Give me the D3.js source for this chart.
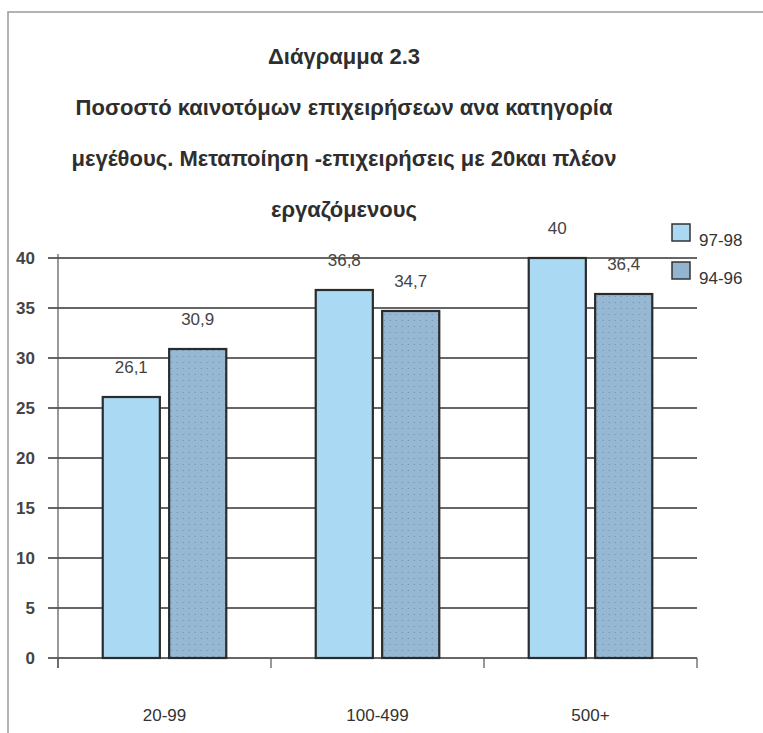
<!DOCTYPE html>
<html>
<head>
<meta charset="utf-8">
<script src="https://cdn.jsdelivr.net/npm/d3@7"></script>
<style>
  body { margin: 0; background: #fff; }
  svg { display: block; font-family: "Liberation Sans", Arial, sans-serif; }
</style>
</head>
<body>
<div id="chart"></div>
<script>
// data
const categories = ["20-99", "100-499", "500+"];
const seriesNames = ["97-98", "94-96"];
const values9798 = [26.1, 36.8, 40];
const values9496 = [30.9, 34.7, 36.4];
const yTicks = [0, 5, 10, 15, 20, 25, 30, 35, 40];
const titleLines = [
  "Διάγραμμα 2.3",
  "Ποσοστό καινοτόμων επιχειρήσεων ανα κατηγορία",
  "μεγέθους. Μεταποίηση -επιχειρήσεις με 20και πλέον",
  "εργαζόμενους"
];

const W = 763, H = 733;
const svg = d3.select("#chart").append("svg")
  .attr("width", W)
  .attr("height", H);

// fills
const defs = svg.append("defs");
const pat = defs.append("pattern")
  .attr("id", "dots")
  .attr("width", 6)
  .attr("height", 6)
  .attr("patternUnits", "userSpaceOnUse");
pat.append("rect").attr("width", 6).attr("height", 6).attr("fill", "#97b8d3");
pat.append("rect").attr("x", 2).attr("y", 2).attr("width", 1).attr("height", 1).attr("fill", "#6a8aa4");

const colors = ["#aad9f3", "url(#dots)"];
const legendColors = ["#aad9f3", "#93b4cf"];

// frame
svg.append("path")
  .attr("d", "M8,733 L8,12 L763,12")
  .attr("fill", "none")
  .attr("stroke", "#999")
  .attr("stroke-width", 1.5);

// title
svg.selectAll(".title")
  .data(titleLines)
  .enter()
  .append("text")
  .attr("class", "title")
  .attr("x", 344)
  .attr("y", (d, i) => 64 + i * 51)
  .attr("text-anchor", "middle")
  .style("font-size", "22px")
  .style("font-weight", "bold")
  .style("fill", "#2e2e2e")
  .text(d => d);

// scales
const x = d3.scaleBand()
  .domain(categories)
  .range([58, 697])
  .paddingInner(0.42)
  .paddingOuter(0.21);

const xs = d3.scaleBand()
  .domain(seriesNames)
  .range([0, x.bandwidth()])
  .paddingInner(0.14);

const y = d3.scaleLinear()
  .domain([0, 40])
  .range([658, 258]);

// gridlines
svg.append("g")
  .selectAll("line")
  .data(yTicks)
  .enter()
  .append("line")
  .attr("x1", 48)
  .attr("x2", 697)
  .attr("y1", d => y(d))
  .attr("y2", d => y(d))
  .attr("stroke", "#333")
  .attr("stroke-width", 1.6);

// y axis line
svg.append("line")
  .attr("x1", 58).attr("x2", 58)
  .attr("y1", y(40) - 4).attr("y2", y(0) + 10)
  .attr("stroke", "#555")
  .attr("stroke-width", 1.2);

// y tick labels
svg.append("g")
  .selectAll("text")
  .data(yTicks)
  .enter()
  .append("text")
  .attr("x", 35)
  .attr("y", d => y(d) + 6)
  .attr("text-anchor", "end")
  .style("font-size", "17px")
  .style("font-weight", "bold")
  .style("fill", "#444")
  .text(d => d);

// x ticks
const xEdges = [58].concat(categories.map(c => x(c) + x.bandwidth() + x.step() * x.paddingInner() / 2));
svg.append("g")
  .selectAll("line")
  .data(xEdges)
  .enter()
  .append("line")
  .attr("x1", d => d).attr("x2", d => d)
  .attr("y1", y(0)).attr("y2", y(0) + 10)
  .attr("stroke", "#555")
  .attr("stroke-width", 1.2);

// x labels
svg.append("g")
  .selectAll("text")
  .data(categories)
  .enter()
  .append("text")
  .attr("x", d => x(d) + x.bandwidth() / 2)
  .attr("y", 721)
  .attr("text-anchor", "middle")
  .style("font-size", "17px")
  .style("fill", "#333")
  .text(d => d);

// bars
const rows = categories.map((c, i) => ({
  cat: c,
  vals: [
    { s: seriesNames[0], v: values9798[i], k: 0 },
    { s: seriesNames[1], v: values9496[i], k: 1 }
  ]
}));

const groups = svg.append("g")
  .selectAll("g")
  .data(rows)
  .enter()
  .append("g")
  .attr("transform", d => "translate(" + x(d.cat) + ",0)");

groups.selectAll("rect")
  .data(d => d.vals)
  .enter()
  .append("rect")
  .attr("x", d => xs(d.s))
  .attr("y", d => y(d.v))
  .attr("width", xs.bandwidth())
  .attr("height", d => y(0) - y(d.v))
  .attr("fill", d => colors[d.k])
  .attr("stroke", "#2b2b2b")
  .attr("stroke-width", 2.2);

// value labels
groups.selectAll("text")
  .data(d => d.vals)
  .enter()
  .append("text")
  .attr("x", d => xs(d.s) + xs.bandwidth() / 2)
  .attr("y", d => y(d.v) - 24)
  .attr("text-anchor", "middle")
  .style("font-size", "17px")
  .style("fill", "#444")
  .text(d => String(d.v).replace(".", ","));

// legend
const legend = svg.append("g")
  .selectAll("g")
  .data(seriesNames)
  .enter()
  .append("g")
  .attr("transform", (d, i) => "translate(672," + (224 + i * 38) + ")");

legend.append("rect")
  .attr("width", 18)
  .attr("height", 17)
  .attr("fill", (d, i) => legendColors[i])
  .attr("stroke", "#333")
  .attr("stroke-width", 1.5);

legend.append("text")
  .attr("x", 27)
  .attr("y", 22)
  .style("font-size", "17px")
  .style("fill", "#333")
  .text(d => d);
</script>
</body>
</html>
